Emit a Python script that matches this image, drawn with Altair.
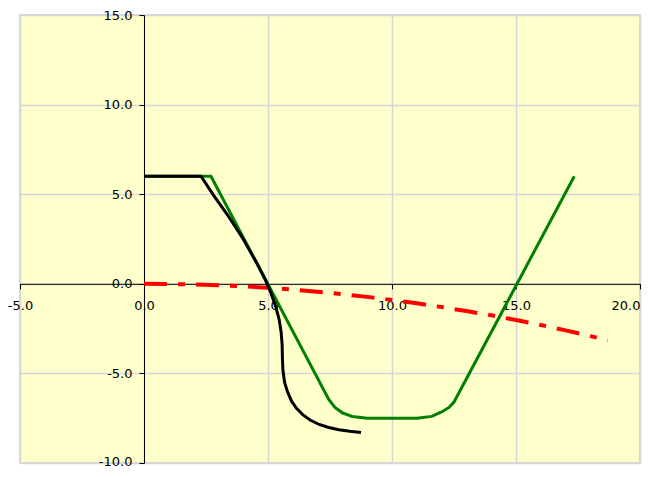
import altair as alt
import pandas as pd

# ---- data ----
red_x = [0, 1, 2, 3, 4, 5, 6, 7, 8, 9, 10, 11, 12, 13, 14, 15, 16, 17, 18, 18.7]
red_y = [0, -0.01, -0.04, -0.08, -0.14, -0.22, -0.32, -0.44, -0.58, -0.73, -0.9,
         -1.09, -1.3, -1.52, -1.76, -2.02, -2.3, -2.6, -2.92, -3.15]

green_x = [0, 2.7, 7.45, 7.7, 8.0, 8.4, 9.0, 10.0, 11.0, 11.6, 12.0, 12.3, 12.5, 17.35]
green_y = [6.0, 6.0, -6.45, -6.9, -7.2, -7.4, -7.5, -7.5, -7.5, -7.4, -7.15, -6.9, -6.6, 6.0]

black_x = [0, 2.3, 2.8, 3.35, 4.0, 4.55, 4.9, 5.1, 5.31, 5.45, 5.53, 5.57, 5.58, 5.6,
           5.67, 5.78, 5.95, 6.15, 6.4, 6.7, 7.06, 7.45, 7.86, 8.3, 8.75]
black_y = [6.0, 6.0, 4.95, 3.88, 2.5, 1.15, 0.2, -0.45, -1.27, -2.0, -2.7, -3.4, -4.1,
           -4.8, -5.5, -6.0, -6.55, -6.95, -7.3, -7.6, -7.85, -8.02, -8.14, -8.23, -8.3]

x_ticks = [-5, 0, 5, 10, 15, 20]
y_ticks = [-10, -5, 0, 5, 10, 15]

W, H = 620, 448
FONT = "DejaVu Sans"
LABEL = "(datum.value < 0 ? '-' : '') + format(abs(datum.value), '.1f')"


def frame(xs, ys):
    return pd.DataFrame({"x": xs, "y": ys, "o": list(range(len(xs)))})


xscale = alt.Scale(domain=[-5, 20], nice=False, zero=False)
yscale = alt.Scale(domain=[-10, 15], nice=False, zero=False)

xaxis = alt.Axis(values=x_ticks, labelExpr=LABEL, title=None, offset=-0.4 * H,
                 labelFlush=False, labelOverlap=False, labelPadding=11,
                 labelAlign={"expr": "datum.value >= 20 ? 'right' : 'center'"},
                 tickSize=5, tickColor="black", domainColor="black", domainWidth=1,
                 labelFont=FONT, labelFontSize=13, labelColor="black",
                 grid=True, gridColor="#D6D6D6", gridWidth=1.5)
yaxis = alt.Axis(values=y_ticks, labelExpr=LABEL, title=None, offset=-0.2 * W,
                 labelOverlap=False, labelPadding=7, labelFlush=False,
                 labelOffset={"expr": "datum.value <= -10 ? -2 : 0"},
                 tickSize=5, tickColor="black", domainColor="black", domainWidth=1,
                 labelFont=FONT, labelFontSize=13, labelColor="black",
                 grid=True, gridColor="#D6D6D6", gridWidth=1.5)


def line(df, color, width, dash=None):
    kw = dict(color=color, strokeWidth=width, clip=False)
    if dash:
        kw["strokeDash"] = dash
    return alt.Chart(df).mark_line(**kw).encode(
        x=alt.X("x:Q", scale=xscale, axis=xaxis),
        y=alt.Y("y:Q", scale=yscale, axis=yaxis),
        order="o:Q",
    )


red = line(frame(red_x, red_y), "#FF0000", 4, [23, 11, 7, 11])
green = line(frame(green_x, green_y), "#008000", 3)
black = line(frame(black_x, black_y), "#000000", 3)

chart = alt.layer(red, green, black).properties(
    width=W, height=H,
    autosize=alt.AutoSizeParams(type="none"),
    padding={"left": 12, "top": 7, "right": 5, "bottom": 6},
    background="white",
).configure_view(fill="#FFFFCC", stroke="#D9D9D9", strokeWidth=2)

chart.save("out.html", embed_options={"renderer": "svg", "actions": False})
